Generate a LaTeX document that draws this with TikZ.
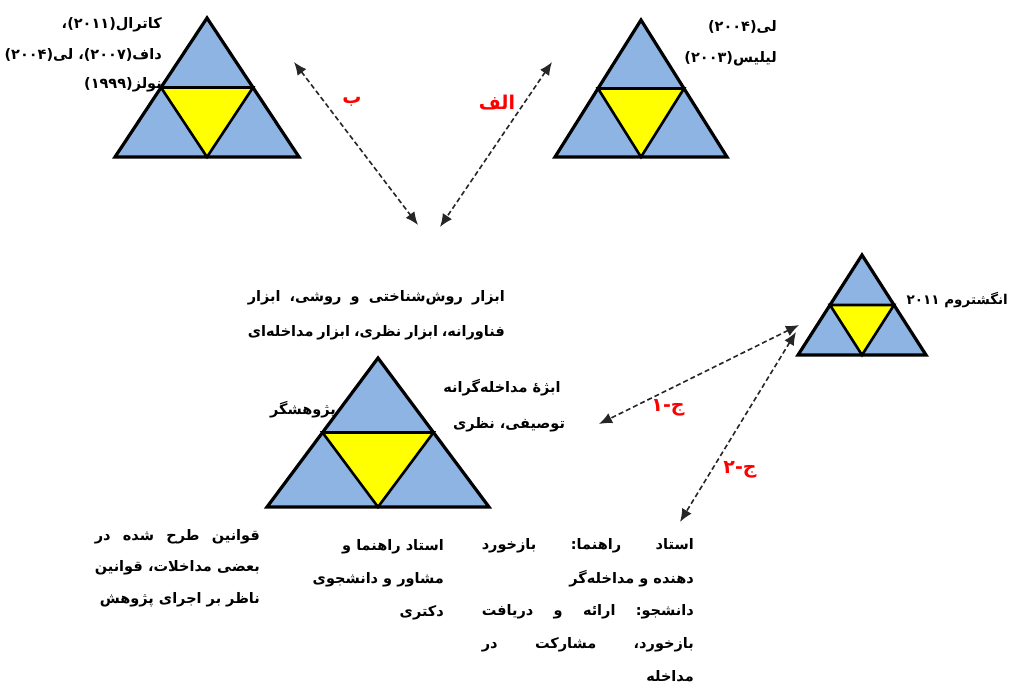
\documentclass[tikz,border=0pt]{standalone}
\usepackage{fontspec}
\usetikzlibrary{arrows.meta}
\TeXXeTstate=1
\newfontfamily\fa[Script=Arabic]{DejaVu Sans}
\definecolor{triblue}{RGB}{141,180,226}
\definecolor{triyel}{RGB}{255,255,0}
\newcommand\RL[1]{\beginR #1\endR}
\newcommand\JL[2]{\hbox to #1{\beginR #2\endR}}
\newcommand\Sierp[4]{%
  \filldraw[tri] (#1,#2) -- (#1-#3,#2+#4) -- (#1+#3,#2+#4) -- cycle;
  \filldraw[yel] (#1-#3/2,#2+#4/2) -- (#1+#3/2,#2+#4/2) -- (#1,#2+#4) -- cycle;
}
\begin{document}
\begin{tikzpicture}[x=1pt,y=-1pt,
  tri/.style={fill=triblue,draw=black,line width=3.2pt,line join=miter},
  yel/.style={fill=triyel,draw=black,line width=2.6pt,line join=miter},
  txt/.style={font=\fa\bfseries\fontsize{14.5}{17}\selectfont,inner sep=0pt},
  lbl/.style={font=\fa\bfseries\fontsize{19}{21}\selectfont,text=red,inner sep=0pt},
  link/.style={draw=black!85,line width=1.6pt,dash pattern=on 5pt off 3pt,
    {Latex[length=13pt,width=11pt]}-{Latex[length=13pt,width=11pt]}}]
\useasboundingbox (0,0) rectangle (1011,686);
\fill[white] (0,0) rectangle (1011,686);

% triangles
\Sierp{207}{18}{92}{139}
\Sierp{641}{20}{86}{137}
\Sierp{862}{255}{64}{100}
\Sierp{378}{358}{111}{149}

% top-left references
\node[txt,anchor=east] (tl1) at (162,25) {\RL{کاترال(۲۰۱۱)،}};
\node[txt,anchor=east] (tl2) at (162,55) {\RL{داف(۲۰۰۷)، لی(۲۰۰۴)}};
\node[txt,anchor=east] (tl3) at (162,85) {\RL{نولز(۱۹۹۹)}};

% top-right references
\node[txt,anchor=east] (tr1) at (777,27) {\RL{لی(۲۰۰۴)}};
\node[txt,anchor=east] (tr2) at (777,59) {\RL{لیلیس(۲۰۰۳)}};

% right triangle label
\node[txt,font=\fa\bfseries\fontsize{13.5}{16}\selectfont,anchor=east] (rt) at (1008,300) {\RL{انگشتروم ۲۰۱۱}};

% central texts
\node[txt,anchor=east] (c1) at (505,298) {\JL{257pt}{ابزار\hfill روش‌شناختی\hfill و\hfill روشی،\hfill ابزار}};
\node[txt,anchor=east] (c2) at (505,333) {\JL{257pt}{فناورانه،\hfill ابزار\hfill نظری،\hfill ابزار\hfill مداخله‌ای}};
\node[txt] (ob1) at (502,388) {\RL{ابژهٔ مداخله‌گرانه}};
\node[txt] (ob2) at (509,425) {\RL{توصیفی، نظری}};
\node[txt,anchor=east] (res) at (336,410) {\RL{پژوهشگر}};

% bottom-left
\node[txt,anchor=east] (bl1) at (260,537) {\JL{165pt}{قوانین\hfill طرح\hfill شده\hfill در}};
\node[txt,anchor=east] (bl2) at (260,568) {\JL{165pt}{بعضی\hfill مداخلات،\hfill قوانین}};
\node[txt,anchor=east] (bl3) at (260,600) {\RL{ناظر بر اجرای پژوهش}};

% bottom-middle
\node[txt,anchor=east] (bm1) at (444,547) {\RL{استاد راهنما و}};
\node[txt,anchor=east] (bm2) at (444,580) {\RL{مشاور و دانشجوی}};
\node[txt,anchor=east] (bm3) at (444,613) {\RL{دکتری}};

% bottom-right
\node[txt,anchor=east] (br1) at (694,546) {\JL{212pt}{استاد\hfill راهنما:\hfill بازخورد}};
\node[txt,anchor=east] (br2) at (694,579) {\RL{دهنده و مداخله‌گر}};
\node[txt,anchor=east] (br3) at (694,612) {\JL{212pt}{دانشجو:\hfill ارائه\hfill و\hfill دریافت}};
\node[txt,anchor=east] (br4) at (694,645) {\JL{212pt}{بازخورد،\hfill مشارکت\hfill در}};
\node[txt,anchor=east] (br5) at (694,676) {\RL{مداخله}};

% connector end points
\coordinate (bA) at (294,62);
\coordinate (bB) at (418,225);
\coordinate (aA) at (552,62);
\coordinate (aB) at (440,227);
\coordinate (j1A) at (799,325);
\coordinate (j1B) at (599,424);
\coordinate (j2A) at (796,332);
\coordinate (j2B) at (680,522);

\draw[link] (bA) -- (bB);
\draw[link] (aA) -- (aB);
\draw[link] (j1A) -- (j1B);
\draw[link] (j2A) -- (j2B);

% red labels
\node[lbl] (lb) at (352,102) {\RL{ب}};
\node[lbl] (la) at (497,103) {\RL{الف}};
\node[lbl] (lj1) at (668,408) {\RL{ج-۱}};
\node[lbl] (lj2) at (740,470) {\RL{ج-۲}};
\end{tikzpicture}
\end{document}
